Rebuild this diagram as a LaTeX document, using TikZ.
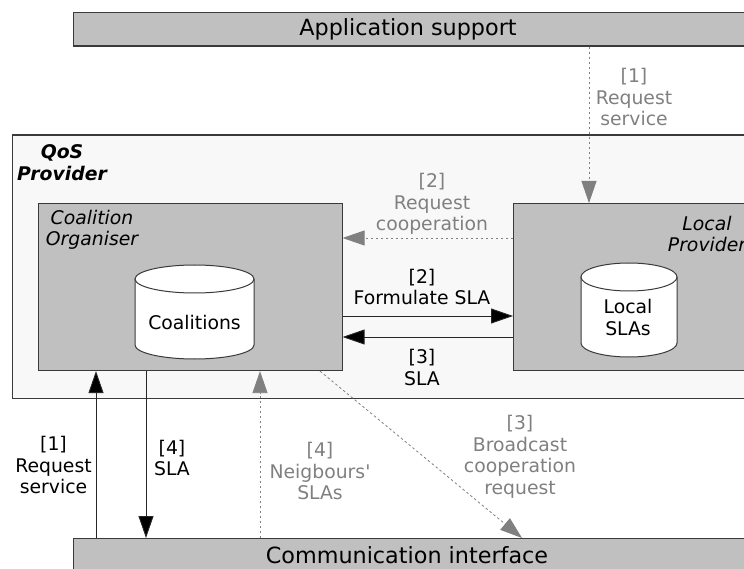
\documentclass[tikz,border=0pt]{standalone}
\usepackage{fontspec}
\setmainfont{DejaVu Sans}[Ligatures=TeXOff]
\usetikzlibrary{arrows.meta}
\definecolor{boxgray}{HTML}{C0C0C0}
\definecolor{qosfill}{HTML}{F8F8F8}
\definecolor{edge}{HTML}{3A3A3A}
\definecolor{softgray}{HTML}{808080}
\tikzset{
  box/.style={draw=edge, line width=1.1pt, fill=boxgray, inner sep=0pt, anchor=north west},
  lbl/.style={inner sep=0pt, align=center, font=\fontsize{18.8}{21.5}\selectfont},
  glbl/.style={lbl, text=softgray},
  solidarrow/.style={draw=black!85, line width=0.9pt, -{Triangle[length=22pt,width=15pt,fill=black]}},
  dotarrow/.style={draw=softgray, line width=0.8pt, dash pattern=on 2.5pt off 2.5pt, -{Triangle[length=22pt,width=15pt,fill=softgray]}},
  cylfill/.style={draw=edge, line width=1pt, fill=white}
}
\begin{document}
\begin{tikzpicture}[x=1pt,y=-1pt]
\useasboundingbox (0,0) rectangle (744,569);
\clip (0,0) rectangle (744,569);
% boxes
\node[box, minimum width=680pt, minimum height=33.5pt] (app) at (73,12) {};
\node[box, fill=qosfill, minimum width=740pt, minimum height=263.5pt] (qos) at (11.5,134.5) {};
\node[box, minimum width=304pt, minimum height=167pt] (co) at (37.5,203) {};
\node[box, minimum width=240pt, minimum height=167pt] (lp) at (513,203) {};
\node[box, minimum width=680pt, minimum height=40pt] (ci) at (73,538) {};
% texts in boxes
\node[inner sep=0pt, font=\fontsize{22.3}{26}\selectfont] (apptext) at (408,29) {Application support};
\node[inner sep=0pt, font=\fontsize{22.3}{26}\selectfont] (citext) at (407,555) {Communication interface};
\node[lbl, font=\fontsize{18.8}{21.5}\selectfont\bfseries\itshape] (qostext) at (62,162.5) {QoS\\Provider};
\node[lbl, font=\fontsize{18.8}{21.5}\selectfont\itshape] (cotext) at (92,230) {Coalition\\Organiser};
\node[lbl, font=\fontsize{18.8}{21.5}\selectfont\itshape] (lptext) at (707,234) {Local\\Provider};
% cylinders
\draw[cylfill] (135,279) -- (135,345) arc[start angle=180, end angle=0, x radius=59.5, y radius=14] -- (254,279);
\draw[cylfill] (194.5,279) ellipse [x radius=59.5, y radius=14];
\node[lbl] (coal) at (194.5,322) {Coalitions};
\draw[cylfill] (581,277) -- (581,343) arc[start angle=180, end angle=0, x radius=48, y radius=14] -- (677,277);
\draw[cylfill] (629,277) ellipse [x radius=48, y radius=14];
\node[lbl] (lsla) at (628,317.5) {Local\\SLAs};
% x/y helper coordinates
\coordinate (xa) at (589,0);
\coordinate (ya) at (0,238);
\coordinate (yb) at (0,316);
\coordinate (yc) at (0,337);
\coordinate (xb) at (96,0);
\coordinate (xc) at (146,0);
\coordinate (xd) at (260,0);
\coordinate (xe) at (320,0);
\coordinate (xf) at (522,0);
% connectors
\draw[dotarrow] (app.south -| xa) -- (lp.north -| xa);
\draw[dotarrow] (lp.west |- ya) -- (co.east |- ya);
\draw[solidarrow] (co.east |- yb) -- (lp.west |- yb);
\draw[solidarrow] (lp.west |- yc) -- (co.east |- yc);
\draw[solidarrow] (ci.north -| xb) -- (co.south -| xb);
\draw[solidarrow] (co.south -| xc) -- (ci.north -| xc);
\draw[dotarrow] (ci.north -| xd) -- (co.south -| xd);
\draw[dotarrow] (co.south -| xe) -- (ci.north -| xf);
% labels
\node[glbl] (l1) at (634,97) {[1]\\Request\\service};
\node[glbl] (l2) at (432,204) {[2]\\Request\\cooperation};
\node[lbl] (l3) at (422,287) {[2]\\Formulate SLA};
\node[lbl] (l4) at (422,367.5) {[3]\\SLA};
\node[lbl] (l5) at (53.5,465) {[1]\\Request\\service};
\node[lbl] (l6) at (172,458) {[4]\\SLA};
\node[glbl] (l7) at (320,471) {[4]\\Neigbours'\\SLAs};
\node[glbl] (l8) at (520,457) {[3]\\Broadcast\\cooperation\\request};
\end{tikzpicture}
\end{document}
